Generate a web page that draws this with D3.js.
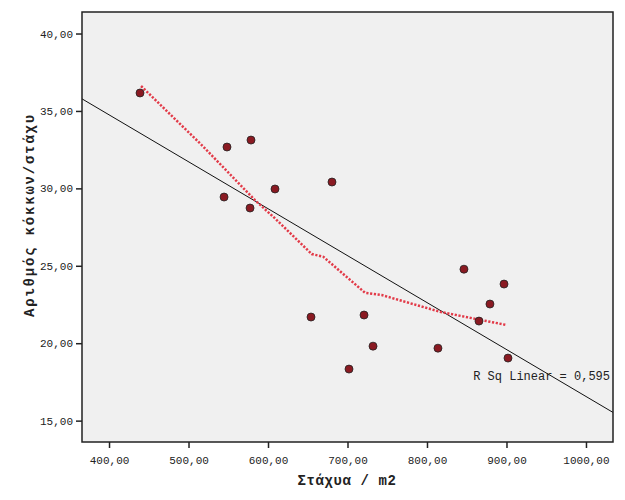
<!DOCTYPE html>
<html>
<head>
<meta charset="utf-8">
<script src="https://cdn.jsdelivr.net/npm/d3@7"></script>
<style>
  body { margin: 0; background: #fff; }
  text { font-family: "Liberation Mono", "DejaVu Sans Mono", monospace; }
</style>
</head>
<body>
<div id="chart"></div>
<script>
// scatter values
var stachya = [439, 548.4, 578.6, 544.7, 577.4, 608.8, 680.5, 654.1, 720.8, 732.1, 701.9, 813.8, 846.5, 879.2, 865.4, 896.9, 901.9];
var kokkoi  = [36.16, 32.67, 33.12, 29.44, 28.73, 29.96, 30.41, 21.69, 21.82, 19.81, 18.33, 19.68, 24.78, 22.53, 21.43, 23.82, 19.04];

// loess curve (red dotted)
var loessX = [440.3, 516.6, 583.6, 608.8, 655.0, 669.6, 722.0, 743.0, 816.4, 900.3];
var loessY = [36.61, 32.80, 29.24, 28.06, 25.76, 25.58, 23.26, 23.11, 22.03, 21.17];

var xTicks = [400, 500, 600, 700, 800, 900, 1000];
var yTicks = [15, 20, 25, 30, 35, 40];
var rsqLabel = "R Sq Linear = 0,595";

const width = 625;
const height = 500;
const plot = {left: 82, right: 613, top: 12, bottom: 442};

var svg = d3.select("#chart")
    .append("svg")
    .attr("width", width)
    .attr("height", height);

var x = d3.scaleLinear()
    .domain([366, 1034])
    .range([plot.left, plot.right]);

var y = d3.scaleLinear()
    .domain([13.62, 41.39])
    .range([plot.bottom, plot.top]);

// plot background
svg.append("rect")
    .attr("x", plot.left)
    .attr("y", plot.top)
    .attr("width", plot.right - plot.left)
    .attr("height", plot.bottom - plot.top)
    .attr("fill", "#f0f0f0");

svg.append("clipPath").attr("id", "clip")
    .append("rect")
    .attr("x", plot.left)
    .attr("y", plot.top)
    .attr("width", plot.right - plot.left)
    .attr("height", plot.bottom - plot.top);

var inner = svg.append("g").attr("clip-path", "url(#clip)");

// least squares fit
var mx = d3.mean(stachya), my = d3.mean(kokkoi);
var sxy = d3.sum(stachya, function(d, i){ return (d - mx) * (kokkoi[i] - my); });
var sxx = d3.sum(stachya, function(d){ return (d - mx) * (d - mx); });
var slope = sxy / sxx;
var icpt = my - slope * mx;

inner.append("line")
    .attr("x1", x(366)).attr("y1", y(icpt + slope * 366))
    .attr("x2", x(1034)).attr("y2", y(icpt + slope * 1034))
    .attr("stroke", "#111")
    .attr("stroke-width", 1);

// loess
var line = d3.line()
    .x(function(d){ return x(d[0]); })
    .y(function(d){ return y(d[1]); });

inner.append("path")
    .datum(loessX.map(function(d, i){ return [d, loessY[i]]; }))
    .attr("d", line)
    .attr("fill", "none")
    .attr("stroke", "#e23a48")
    .attr("stroke-width", 2.5)
    .attr("stroke-dasharray", "2.2,1.6");

// points
inner.selectAll("circle")
    .data(d3.range(stachya.length))
    .enter()
    .append("circle")
    .attr("cx", function(i){ return x(stachya[i]); })
    .attr("cy", function(i){ return y(kokkoi[i]); })
    .attr("r", 4)
    .attr("fill", "#8a1a22")
    .attr("stroke", "#222")
    .attr("stroke-width", 0.8);

// frame
svg.append("rect")
    .attr("x", plot.left)
    .attr("y", plot.top)
    .attr("width", plot.right - plot.left)
    .attr("height", plot.bottom - plot.top)
    .attr("fill", "none")
    .attr("stroke", "#222")
    .attr("stroke-width", 1.5);

// axes
var fmt = function(d){ return d.toFixed(2).replace(".", ","); };

var xAxis = svg.append("g")
    .attr("transform", "translate(0," + plot.bottom + ")")
    .call(d3.axisBottom(x).tickValues(xTicks).tickFormat(fmt).tickSize(6).tickPadding(8));

var yAxis = svg.append("g")
    .attr("transform", "translate(" + plot.left + ",0)")
    .call(d3.axisLeft(y).tickValues(yTicks).tickFormat(fmt).tickSize(6).tickPadding(3));

[xAxis, yAxis].forEach(function(a){
    a.select(".domain").remove();
    a.selectAll("line").attr("stroke", "#222").attr("stroke-width", 1.5);
    a.selectAll("text")
        .attr("fill", "#222")
        .style("font-family", "Liberation Mono, monospace")
        .style("font-size", "11px");
});

// R sq label
svg.append("text")
    .attr("x", plot.right - 3)
    .attr("y", 380)
    .attr("text-anchor", "end")
    .attr("fill", "#222")
    .style("font-size", "12px")
    .text(rsqLabel);

// axis titles
svg.append("text")
    .attr("x", 347)
    .attr("y", 485)
    .attr("text-anchor", "middle")
    .attr("fill", "#222")
    .style("font-size", "14px")
    .style("font-weight", "bold")
    .style("letter-spacing", "0.6px")
    .text("Στάχυα / m2");

svg.append("text")
    .attr("transform", "translate(34,215) rotate(-90)")
    .attr("text-anchor", "middle")
    .attr("fill", "#222")
    .style("font-size", "14px")
    .style("font-weight", "bold")
    .style("letter-spacing", "1.8px")
    .text("Αριθμός κόκκων/στάχυ");
</script>
</body>
</html>
